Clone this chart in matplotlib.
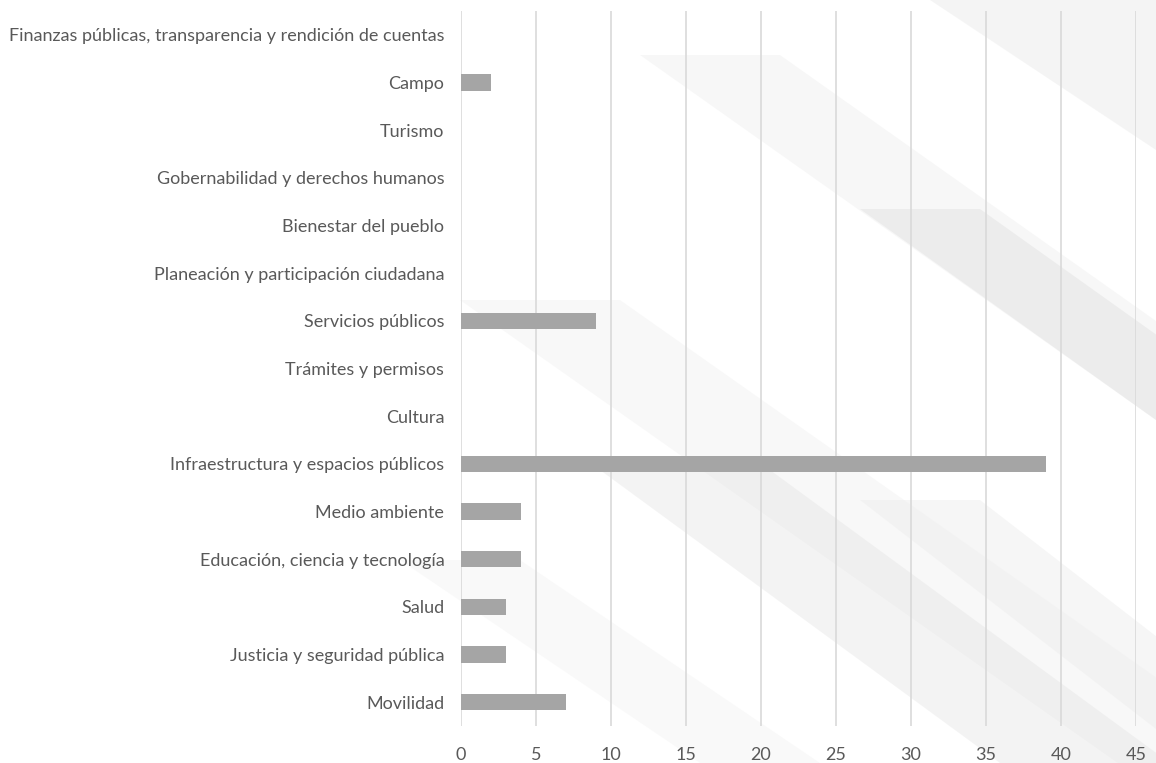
import numpy as np
import matplotlib.pyplot as plt
from matplotlib.patches import Polygon

categories = [
    "Finanzas públicas, transparencia y rendición de cuentas",
    "Campo",
    "Turismo",
    "Gobernabilidad y derechos humanos",
    "Bienestar del pueblo",
    "Planeación y participación ciudadana",
    "Servicios públicos",
    "Trámites y permisos",
    "Cultura",
    "Infraestructura y espacios públicos",
    "Medio ambiente",
    "Educación, ciencia y tecnología",
    "Salud",
    "Justicia y seguridad pública",
    "Movilidad",
]
values = [0, 2, 0, 0, 0, 0, 9, 0, 0, 39, 4, 4, 3, 3, 7]
xticks = [0, 5, 10, 15, 20, 25, 30, 35, 40, 45]

W, H = 1156, 763
plt.rcParams['font.family'] = ['Lato', 'DejaVu Sans']

fig = plt.figure(figsize=(W / 100, H / 100), dpi=100)
fig.patch.set_facecolor('white')

# soft diagonal bands of the slide background (pixel coords, y down)
def band(x0, y0, x1, y1, width, color, alpha):
    pts = [(x0, y0), (x1, y1), (x1 + width, y1), (x0 + width, y0)]
    pts = [(px / W, 1 - py / H) for px, py in pts]
    fig.patches.append(Polygon(pts, closed=True, transform=fig.transFigure,
                               facecolor=color, alpha=alpha, edgecolor='none', zorder=0))

band(930, 0, 1156, 150, 260, '#ebebeb', 0.5)
band(640, 55, 1156, 420, 140, '#f0f0f0', 0.5)
band(460, 300, 1156, 790, 160, '#f2f2f2', 0.5)
band(860, 209, 1156, 420, 120, '#e0e0e0', 0.45)
band(600, 470, 1000, 763, 170, '#e3e3e3', 0.4)
band(860, 500, 1200, 763, 120, '#ececec', 0.45)
band(400, 560, 700, 763, 120, '#f4f4f4', 0.5)

ax = fig.add_axes([461 / W, 1 - 726 / H, 675 / W, 715 / H])
ax.set_zorder(2)
ax.patch.set_alpha(0)

y = np.arange(len(categories))
ax.barh(y, values, height=0.34, color='#a5a5a5', edgecolor='none', zorder=3)

ax.set_xlim(0, 45)
ax.set_ylim(len(categories) - 0.5, -0.5)
ax.set_xticks(xticks)
ax.set_xticklabels([str(t) for t in xticks])
ax.set_yticks(y)
ax.set_yticklabels(categories)

ax.xaxis.grid(True, color='#d9d9d9', linewidth=1.2, zorder=1)
ax.set_axisbelow(True)
for s in ax.spines.values():
    s.set_visible(False)
ax.tick_params(axis='both', length=0, labelsize=13, labelcolor='#595959')
ax.tick_params(axis='x', pad=15)
ax.tick_params(axis='y', pad=12)

fig.savefig('out.png', dpi=100)
